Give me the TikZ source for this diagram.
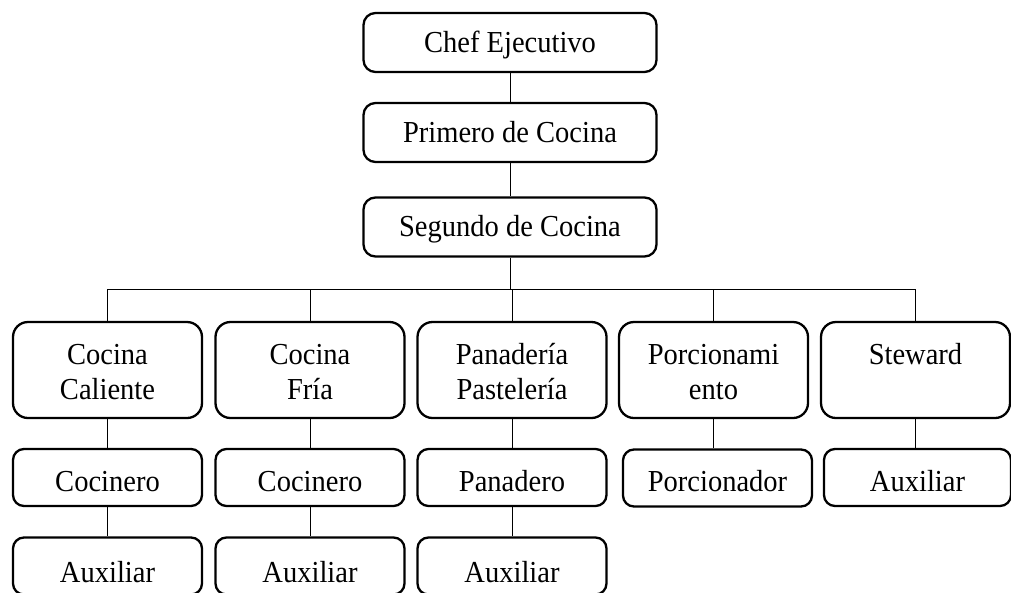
\documentclass[tikz,border=0pt]{standalone}
\usepackage{fontspec}
\setmainfont{Liberation Serif}[FakeStretch=0.935]
\newcommand\mytopstrut{\rule[-8pt]{0pt}{35pt}}
\newcommand\myupper{\rule{0pt}{32pt}}
\newcommand\mylower{\rule[-8.5pt]{0pt}{8.5pt}}
\newcommand\mymidstrut{\rule[-8pt]{0pt}{43pt}}
\newcommand\mybotstrut{\rule[-8pt]{0pt}{48pt}}
\begin{document}
\begin{tikzpicture}[x=1pt,y=-1pt,
  box/.style={draw,line width=2.3pt,rounded corners=12pt,inner sep=0pt,align=center,
    font=\fontsize{30.5}{35.5}\selectfont},
  topbox/.style={box,minimum width=293pt,minimum height=59pt},
  bigbox/.style={box,minimum width=189pt,minimum height=96pt,rounded corners=15pt},
  smallbox/.style={box,minimum width=189pt,minimum height=57pt,rounded corners=11pt},
  link/.style={draw,line width=0.9pt}]
\useasboundingbox (0,0) rectangle (1011,592);
\clip (0,0) rectangle (1011,592);
% top chain
\node[topbox] (chef) at (510,42.5) {\mytopstrut Chef Ejecutivo};
\node[topbox] (prim) at (510,132.5) {\mytopstrut Primero de Cocina};
\node[topbox] (seg) at (510,227) {\mytopstrut Segundo de Cocina};
% level 2
\node[bigbox] (cc) at (107.5,370) {\myupper Cocina\\Caliente\mylower};
\node[bigbox] (cf) at (310,370) {\myupper Cocina\\Fría\mylower};
\node[bigbox] (pp) at (512,370) {\myupper Panadería\\Pastelería\mylower};
\node[bigbox] (po) at (713.5,370) {\myupper Porcionami\\ento\mylower};
\node[bigbox] (st) at (915.5,370) {\myupper Steward\\\mylower};
% level 3
\node[smallbox] (coc1) at (107.5,477.5) {\mymidstrut Cocinero};
\node[smallbox] (coc2) at (310,477.5) {\mymidstrut Cocinero};
\node[smallbox] (pan) at (512,477.5) {\mymidstrut Panadero};
\node[smallbox] (por) at (717.5,478) {\mymidstrut Porcionador};
\node[smallbox,minimum width=187pt] (aux4) at (917.5,477.5) {\mymidstrut Auxiliar};
% level 4
\node[smallbox] (aux1) at (107.5,566) {\mybotstrut Auxiliar};
\node[smallbox] (aux2) at (310,566) {\mybotstrut Auxiliar};
\node[smallbox] (aux3) at (512,566) {\mybotstrut Auxiliar};
% connectors
\coordinate (bus) at (511,289);
\draw[link] (chef) -- (prim);
\draw[link] (prim) -- (seg);
\draw[link] (seg.south) -- (seg.south |- bus);
\draw[link] (cc.north) |- (st.north |- bus) -- (st.north);
\draw[link] (cf.north) -- (cf.north |- bus);
\draw[link] (pp.north) -- (pp.north |- bus);
\draw[link] (po.north) -- (po.north |- bus);
\draw[link] (cc) -- (coc1);
\draw[link] (coc1) -- (aux1);
\draw[link] (cf) -- (coc2);
\draw[link] (coc2) -- (aux2);
\draw[link] (pp) -- (pan);
\draw[link] (pan) -- (aux3);
\draw[link] (po.south) -- (po.south |- por.north);
\draw[link] (st.south) -- (st.south |- aux4.north);
\end{tikzpicture}
\end{document}
